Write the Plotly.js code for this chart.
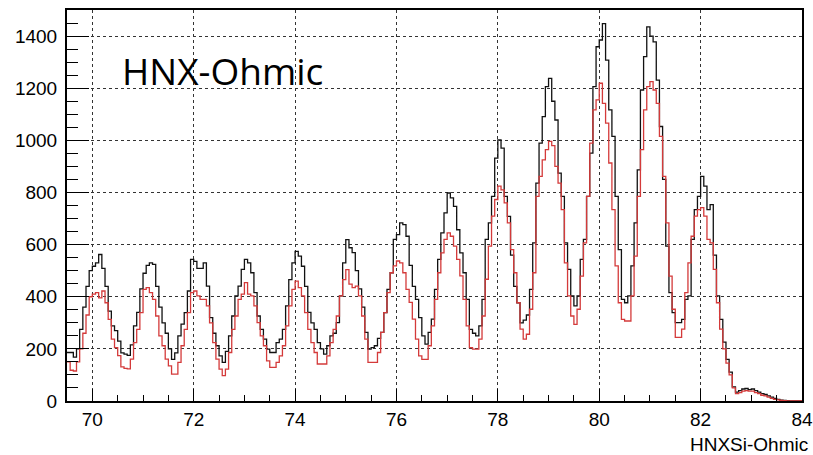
<!DOCTYPE html>
<html>
<head>
<meta charset="utf-8">
<script src="https://cdn.plot.ly/plotly-3.0.1.min.js"></script>
<style>
  html, body { margin: 0; padding: 0; background: #ffffff; }
  #chart { width: 813px; height: 455px; }
</style>
</head>
<body>
<div id="chart"></div>
<script>
// Histogram binning (HNXSi-Ohmic)
const binStart = 69.5;
const binWidth = 0.0625;

// Black histogram contents, one value per bin from 69.5 upward
const blackCounts = [
  186,186,168,200,275,360,440,500,
  517,530,562,509,440,345,288,270,230,185,180,175,215,288,340,430,
  490,520,530,524,440,360,300,260,200,160,185,250,295,339,422,543,
  536,509,509,530,441,320,260,212,173,148,190,250,326,403,441,505,
  543,530,492,416,326,275,237,199,186,186,224,237,275,365,466,530,
  574,556,517,440,340,300,275,224,200,180,212,250,260,301,403,530,
  619,588,569,500,430,360,263,199,205,212,240,263,339,428,492,620,
  638,683,677,632,520,440,390,320,250,218,263,314,428,543,645,722,
  798,779,747,657,568,492,390,275,260,250,288,390,620,683,785,932,
  1002,970,785,708,560,440,377,300,310,330,428,607,836,989,1091,1206,
  1238,1150,1078,874,785,607,505,403,365,403,543,620,785,951,1206,1359,
  1385,1448,1308,1117,1015,785,581,390,377,403,518,683,887,1193,1321,1435,
  1400,1378,1231,1053,850,594,416,339,301,301,313,390,403,620,734,785,
  862,824,734,753,560,403,313,226,160,111,54,34,40,46,48,44,
  46,40,34,28,25,20,15,10,6,3,2,1,0,0,0,0
];

// Red histogram contents, same binning
const redCounts = [
  150,118,115,150,200,260,330,400,
  410,416,396,422,377,313,237,205,174,131,125,123,161,224,275,339,
  428,435,416,390,326,250,212,161,135,103,103,148,212,275,339,416,
  422,403,390,390,365,300,224,161,122,97,122,186,275,326,390,410,
  454,410,403,365,301,250,212,154,129,129,148,173,212,288,365,428,
  460,435,403,339,275,224,186,142,142,142,173,224,275,326,403,466,
  504,448,435,441,403,326,237,148,148,148,186,263,339,416,492,518,
  537,530,492,428,378,314,237,173,160,160,212,288,390,492,568,620,
  645,632,594,543,480,390,288,205,199,199,237,326,467,594,709,773,
  824,810,760,683,581,492,377,276,237,256,352,492,785,862,925,964,
  996,980,900,836,734,530,403,326,294,352,479,607,785,989,1117,1155,
  1219,1142,1066,913,734,518,377,313,307,307,403,556,785,964,1117,1206,
  1225,1193,1142,1015,862,683,479,352,244,244,276,416,530,632,709,734,
  742,709,620,607,505,377,276,200,145,100,50,28,32,38,40,38,
  38,32,28,22,20,15,10,6,4,2,1,0,0,0,0,0
];

// Axis tick labels
const xTickVals = [70, 72, 74, 76, 78, 80, 82, 84];
const xTickText = ["70", "72", "74", "76", "78", "80", "82", "84"];
const yTickVals = [0, 200, 400, 600, 800, 1000, 1200, 1400];
const yTickText = ["0", "200", "400", "600", "800", "1000", "1200", "1400"];

const chartLabel = "HNX-Ohmic";
const xAxisLabel = "HNXSi-Ohmic";

function stepTrace(counts, color) {
  const xs = counts.map((_, i) => binStart + i * binWidth);
  xs.push(binStart + counts.length * binWidth);
  const ys = counts.concat([counts[counts.length - 1]]);
  return {
    type: "scatter", mode: "lines", x: xs, y: ys,
    line: { shape: "hv", color: color, width: 1.3 },
    hoverinfo: "skip", showlegend: false
  };
}

const tickFont = { family: "Liberation Sans, Arial, Helvetica, sans-serif", size: 19, color: "#000" };

const layout = {
  width: 813, height: 455,
  margin: { l: 67, r: 11, t: 10, b: 54 },
  paper_bgcolor: "#ffffff", plot_bgcolor: "#ffffff",
  showlegend: false,
  xaxis: {
    range: [69.5, 84], tickmode: "array", tickvals: xTickVals, ticktext: xTickText,
    ticks: "inside", ticklen: 12, tickwidth: 1, tickcolor: "#000",
    showline: true, linewidth: 2, linecolor: "#000", mirror: true,
    showgrid: true, gridcolor: "#333", griddash: "dot", gridwidth: 1,
    zeroline: false, tickfont: tickFont,
    minor: { dtick: 0.5, tick0: 70, ticks: "inside", ticklen: 6, tickwidth: 1, tickcolor: "#000", showgrid: false }
  },
  yaxis: {
    range: [0, 1500], tickmode: "array", tickvals: yTickVals, ticktext: yTickText,
    ticks: "inside", ticklen: 22, tickwidth: 1, tickcolor: "#000",
    showline: true, linewidth: 2, linecolor: "#000", mirror: true,
    showgrid: true, gridcolor: "#333", griddash: "dot", gridwidth: 1,
    zeroline: false, tickfont: tickFont, ticklabelstandoff: 4,
    minor: { dtick: 50, tick0: 0, ticks: "inside", ticklen: 11, tickwidth: 1, tickcolor: "#000", showgrid: false }
  },
  annotations: [
    {
      text: chartLabel, xref: "paper", yref: "paper", x: 0.072, y: 0.845,
      xanchor: "left", yanchor: "middle", showarrow: false,
      font: { family: "Open Sans, Lato, sans-serif", size: 37, color: "#000" }
    },
    {
      text: xAxisLabel, xref: "paper", yref: "paper", x: 1.011, y: -0.112,
      xanchor: "right", yanchor: "middle", showarrow: false,
      font: { family: "Liberation Sans, Arial, Helvetica, sans-serif", size: 19, color: "#000" }
    }
  ]
};

Plotly.newPlot("chart", [stepTrace(blackCounts, "#111111"), stepTrace(redCounts, "#d43a3a")], layout,
  { staticPlot: true, displayModeBar: false });
</script>
</body>
</html>
